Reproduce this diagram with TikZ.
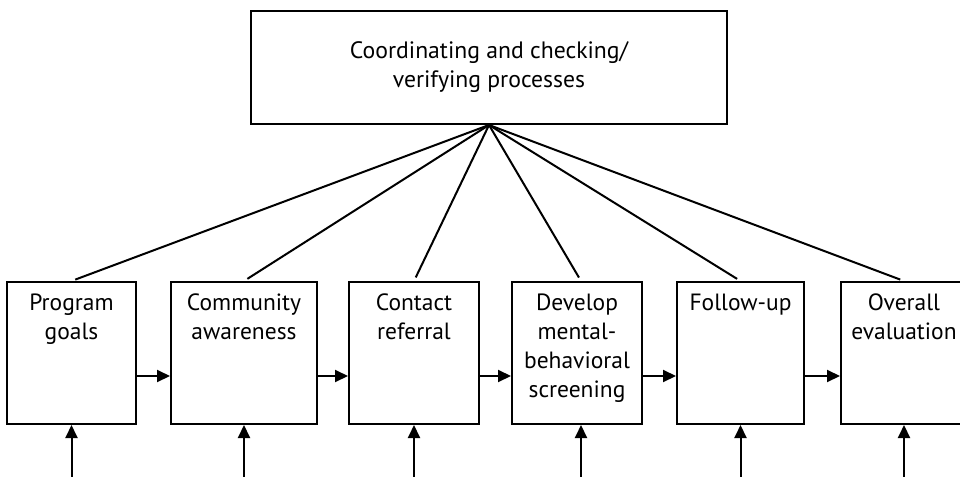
\documentclass[tikz,border=0pt]{standalone}
\usepackage{fontspec}
\setmainfont{PT Sans}
\usetikzlibrary{arrows.meta}
\begin{document}
\begin{tikzpicture}[x=1pt,y=-1pt,
  box/.style={draw, line width=2pt, inner sep=0pt},
  toptext/.style={align=center, font=\fontsize{23.7}{29}\selectfont},
  lbl/.style={anchor=north, align=center, font=\fontsize{23.5}{29}\selectfont, inner sep=0pt, yshift=-13pt},
  conn/.style={line width=2pt, shorten >=4pt},
  arr/.style={line width=2pt, -{Triangle[length=13pt,width=12pt]}}]
\path[use as bounding box, fill=white] (0,0) rectangle (960,476);
\clip (0,0) rectangle (960,476);
\node[box, toptext, minimum width=476pt, minimum height=113pt] (top) at (489,67.5) {Coordinating and checking/\\verifying processes};
\node[box, minimum width=129pt, minimum height=142pt, label={[lbl]north:Program\\goals}] (b1) at (71.5,353) {};
\node[box, minimum width=146pt, minimum height=142pt, label={[lbl]north:Community\\awareness}] (b2) at (244,353) {};
\node[box, minimum width=130pt, minimum height=142pt, label={[lbl]north:Contact\\referral}] (b3) at (414,353) {};
\node[box, minimum width=130pt, minimum height=142pt, label={[lbl]north:Develop\\mental-\\behavioral\\screening}] (b4) at (577,353) {};
\node[box, minimum width=127pt, minimum height=142pt, label={[lbl]north:Follow-up}] (b5) at (740.5,353) {};
\node[box, minimum width=126pt, minimum height=142pt, label={[lbl]north:Overall\\evaluation}] (b6) at (904,353) {};
\foreach \b in {b1,b2,b3,b5,b6} {
  \draw[conn] (top.south) -- (\b.north);
  \coordinate (\b s) at (\b.south |- 0,480);
  \draw[arr] (\b s) -- (\b.south);
}
\draw[conn] (top.south) -- ([xshift=4pt]b4.north);
\coordinate (b4s) at ([xshift=4pt]b4.south |- 0,480);
\draw[arr] (b4s) -- ([xshift=4pt]b4.south);
\draw[arr] ([yshift=-23pt]b1.east) -- ([yshift=-23pt]b2.west);
\draw[arr] ([yshift=-23pt]b2.east) -- ([yshift=-23pt]b3.west);
\draw[arr] ([yshift=-23pt]b3.east) -- ([yshift=-23pt]b4.west);
\draw[arr] ([yshift=-23pt]b4.east) -- ([yshift=-23pt]b5.west);
\draw[arr] ([yshift=-23pt]b5.east) -- ([yshift=-23pt]b6.west);
\end{tikzpicture}
\end{document}
